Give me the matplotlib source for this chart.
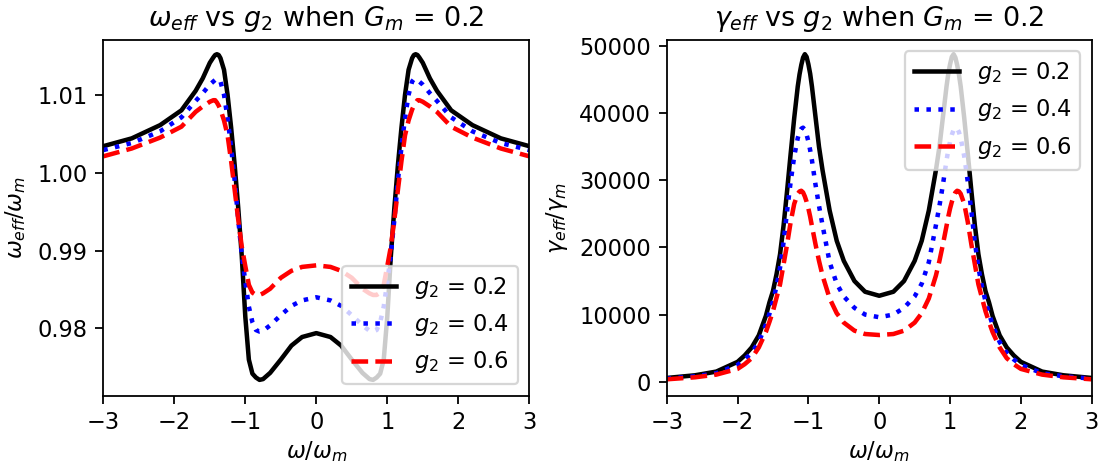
import matplotlib
matplotlib.use("Agg")
import matplotlib.pyplot as plt

# ---------------- data ----------------
labels = [r"$g_2$ = 0.2", r"$g_2$ = 0.4", r"$g_2$ = 0.6"]
xticks = [-3, -2, -1, 0, 1, 2, 3]

# left panel: omega_eff / omega_m
x_left = [-3.0, -2.6, -2.2, -1.9, -1.7, -1.6, -1.5, -1.45, -1.425, -1.40, -1.375, -1.35,
          -1.30, -1.25, -1.20, -1.15, -1.10, -1.05, -1.00, -0.95, -0.90, -0.85, -0.80,
          -0.75, -0.65, -0.50, -0.35, -0.20, 0.0,
          0.20, 0.35, 0.50, 0.65, 0.75, 0.80, 0.85, 0.90, 0.95, 1.00, 1.05, 1.10, 1.15,
          1.20, 1.25, 1.30, 1.35, 1.375, 1.40, 1.425, 1.45, 1.5, 1.6, 1.7, 1.9, 2.2, 2.6, 3.0]

w_g02 = [1.0034, 1.0044, 1.0061, 1.0080, 1.0105, 1.0121, 1.0141, 1.0148, 1.0151, 1.0152,
         1.0151, 1.0147, 1.0132, 1.0100, 1.0058, 1.0010, 0.9955, 0.9893, 0.9815, 0.9760,
         0.9742, 0.9737, 0.9734, 0.9735, 0.9743, 0.9760, 0.9778, 0.9789, 0.9794,
         0.9789, 0.9778, 0.9760, 0.9743, 0.9735, 0.9734, 0.9737, 0.9742, 0.9760, 0.9815,
         0.9893, 0.9955, 1.0010, 1.0058, 1.0100, 1.0132, 1.0147, 1.0151, 1.0152, 1.0151,
         1.0148, 1.0141, 1.0121, 1.0105, 1.0080, 1.0061, 1.0044, 1.0034]

w_g04 = [1.0029, 1.0038, 1.0053, 1.0071, 1.0092, 1.0102, 1.0113, 1.0117, 1.0119, 1.0120,
         1.0120, 1.0117, 1.0100, 1.0070, 1.0033, 0.9990, 0.9940, 0.9895, 0.9860, 0.9828,
         0.9808, 0.9798, 0.9796, 0.9797, 0.9804, 0.9817, 0.9829, 0.9836, 0.9840,
         0.9836, 0.9829, 0.9817, 0.9804, 0.9797, 0.9796, 0.9798, 0.9808, 0.9828, 0.9860,
         0.9895, 0.9940, 0.9990, 1.0033, 1.0070, 1.0100, 1.0117, 1.0120, 1.0120, 1.0119,
         1.0117, 1.0113, 1.0102, 1.0092, 1.0071, 1.0053, 1.0038, 1.0029]

w_g06 = [1.0021, 1.0031, 1.0045, 1.0059, 1.0078, 1.0085, 1.0091, 1.0093, 1.0093, 1.0090,
         1.0086, 1.0081, 1.0067, 1.0048, 1.0015, 0.9978, 0.9940, 0.9905, 0.9880, 0.9856,
         0.9846, 0.9843, 0.9843, 0.9845, 0.9851, 0.9865, 0.9874, 0.9879, 0.9881,
         0.9879, 0.9874, 0.9865, 0.9851, 0.9845, 0.9843, 0.9843, 0.9846, 0.9856, 0.9880,
         0.9905, 0.9940, 0.9978, 1.0015, 1.0048, 1.0067, 1.0081, 1.0086, 1.0090, 1.0093,
         1.0093, 1.0091, 1.0085, 1.0078, 1.0059, 1.0045, 1.0031, 1.0021]

# right panel: gamma_eff / gamma_m
x_right = [-3.0, -2.6, -2.3, -2.0, -1.9, -1.8, -1.7, -1.6, -1.55, -1.5, -1.45, -1.4, -1.35,
           -1.3, -1.25, -1.2, -1.15, -1.125, -1.1, -1.075, -1.05, -1.025, -1.0, -0.975,
           -0.95, -0.9, -0.85, -0.8, -0.7, -0.6, -0.5, -0.35, -0.2, 0.0,
           0.2, 0.35, 0.5, 0.6, 0.7, 0.8, 0.85, 0.9, 0.95, 0.975, 1.0, 1.025, 1.05, 1.075,
           1.1, 1.125, 1.15, 1.2, 1.25, 1.3, 1.35, 1.4, 1.45, 1.5, 1.55, 1.6, 1.7, 1.8, 1.9,
           2.0, 2.3, 2.6, 3.0]

g_g02 = [550, 950, 1500, 2950, 3900, 5100, 6900, 9800, 11800, 13500, 16000, 19000, 23300,
         28500, 34000, 39300, 44000, 45800, 47200, 48300, 48800, 48400, 47300, 45900, 44000,
         39500, 35000, 31500, 25500, 21000, 18000, 15000, 13400, 12800,
         13400, 15000, 18000, 21000, 25500, 31500, 35000, 39500, 44000, 45900, 47300, 48400,
         48800, 48300, 47200, 45800, 44000, 39300, 34000, 28500, 23300, 19000, 16000, 13500,
         11800, 9800, 6900, 5100, 3900, 2950, 1500, 950, 550]

g_g04 = [450, 800, 1250, 2500, 3300, 4300, 5900, 8500, 10100, 12000, 14200, 17000, 20800,
         25500, 29800, 33600, 36300, 37200, 37700, 37850, 37500, 36800, 35800, 34500, 33000,
         29400, 26200, 23300, 17800, 14600, 12700, 11000, 10000, 9600,
         10000, 11000, 12700, 14600, 17800, 23300, 26200, 29400, 33000, 34500, 35800, 36800,
         37500, 37850, 37700, 37200, 36300, 33600, 29800, 25500, 20800, 17000, 14200, 12000,
         10100, 8500, 5900, 4300, 3300, 2500, 1250, 800, 450]

g_g06 = [350, 650, 1050, 1900, 2600, 3500, 5100, 7400, 8900, 10500, 12500, 14500, 17500,
         20500, 23800, 26500, 28000, 28350, 28450, 28200, 27600, 26800, 25800, 24600, 23200,
         20500, 18000, 15800, 12400, 10200, 8800, 7600, 7100, 6950,
         7100, 7600, 8800, 10200, 12400, 15800, 18000, 20500, 23200, 24600, 25800, 26800,
         27600, 28200, 28450, 28350, 28000, 26500, 23800, 20500, 17500, 14500, 12500, 10500,
         8900, 7400, 5100, 3500, 2600, 1900, 1050, 650, 350]

# ---------------- figure ----------------
DPI = 162
fig = plt.figure(figsize=(1104 / DPI, 466 / DPI), dpi=DPI)
ax1 = fig.add_axes([0.0936, 0.1509, 0.3858, 0.7633])
ax2 = fig.add_axes([0.6039, 0.1509, 0.3850, 0.7633])

styles = [dict(color="black", linestyle="-"),
          dict(color="blue", linestyle=":"),
          dict(color="red", linestyle="--")]

for ys, lab, st in zip([w_g02, w_g04, w_g06], labels, styles):
    ax1.plot(x_left, ys, label=lab, linewidth=2, **st)
for ys, lab, st in zip([g_g02, g_g04, g_g06], labels, styles):
    ax2.plot(x_right, ys, label=lab, linewidth=2, **st)

ax1.set_xlim(-3, 3)
ax1.set_ylim(0.97137, 1.01703)
ax1.set_yticks([0.98, 0.99, 1.00, 1.01])
ax1.set_xticks(xticks)
ax1.set_title(r"$\omega_{eff}$ vs $g_2$ when $G_m$ = 0.2", fontsize=12)
ax1.set_xlabel(r"$\omega/\omega_m$", fontsize=10, labelpad=2)
ax1.set_ylabel(r"$\omega_{eff}/\omega_m$", fontsize=10)
ax1.legend(loc="lower right", fontsize=10)

ax2.set_xlim(-3, 3)
ax2.set_ylim(-2090, 50920)
ax2.set_xticks(xticks)
ax2.set_yticks([0, 10000, 20000, 30000, 40000, 50000])
ax2.set_title(r"$\gamma_{eff}$ vs $g_2$ when $G_m$ = 0.2", fontsize=12)
ax2.set_xlabel(r"$\omega/\omega_m$", fontsize=10, labelpad=2)
ax2.set_ylabel(r"$\gamma_{eff}/\gamma_m$", fontsize=10)
ax2.legend(loc="upper right", fontsize=10)

for ax in (ax1, ax2):
    ax.tick_params(labelsize=10)

fig.savefig("out.png", dpi=DPI)
